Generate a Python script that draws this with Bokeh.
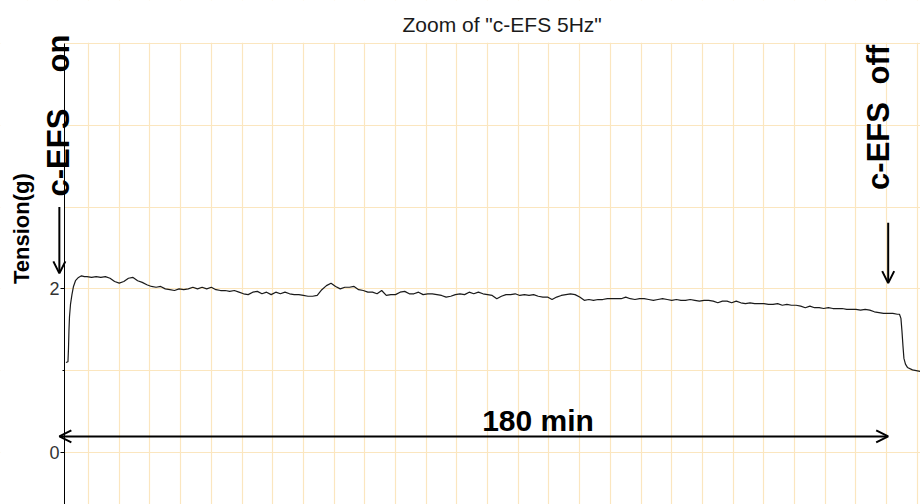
from math import pi
from bokeh.plotting import figure
from bokeh.models import (Range1d, LinearAxis, FixedTicker, Grid, Label, Arrow, OpenHead,
                          BoxAnnotation)
from bokeh.embed import file_html
from bokeh.resources import INLINE

# ---------------- data ----------------
title_text = 'Zoom of "c-EFS 5Hz"'
y_label = "Tension(g)"
duration_label = "180 min"
on_label_a = "c-EFS"
on_label_b = "on"
off_label_a = "c-EFS"
off_label_b = "off"

stim_on_s = 420
stim_off_s = 11220          # 180 min after stimulation on

y_tick_values = [0, 2]
y_minor_values = [1]
y_grid_values = [0, 1, 2, 3, 4, 5]
x_grid_step_s = 400

rise_time_s = [506, 532, 539, 545, 552, 565, 584, 604, 630, 669, 708, 747]
rise_tension_g = [1.10, 1.11, 1.27, 1.49, 1.66, 1.81, 1.93, 2.03, 2.10, 2.14, 2.16, 2.15]

plateau_start_s = 780
plateau_step_s = 60
plateau_tension_g = [
    2.15, 2.14, 2.15, 2.14, 2.15, 2.13, 2.09, 2.07, 2.09, 2.13,
    2.14, 2.10, 2.08, 2.05, 2.03, 2.02, 2.03, 2.00, 1.99, 1.98,
    2.00, 1.99, 2.00, 2.02, 2.00, 2.02, 2.00, 2.02, 1.99, 1.98,
    1.98, 1.97, 1.98, 1.96, 1.94, 1.93, 1.96, 1.97, 1.94, 1.96,
    1.93, 1.96, 1.94, 1.96, 1.94, 1.93, 1.93, 1.92, 1.91, 1.91,
    1.92, 1.99, 2.04, 2.07, 2.03, 2.00, 2.02, 2.02, 2.03, 1.99,
    1.98, 1.96, 1.96, 1.94, 1.98, 1.92, 1.93, 1.93, 1.96, 1.97,
    1.94, 1.94, 1.96, 1.93, 1.94, 1.94, 1.93, 1.92, 1.90, 1.91,
    1.93, 1.94, 1.93, 1.96, 1.94, 1.96, 1.94, 1.93, 1.92, 1.88,
    1.91, 1.93, 1.93, 1.94, 1.92, 1.93, 1.92, 1.93, 1.91, 1.90,
    1.90, 1.87, 1.90, 1.92, 1.93, 1.94, 1.93, 1.90, 1.86, 1.87,
    1.86, 1.87, 1.87, 1.88, 1.88, 1.88, 1.88, 1.90, 1.88, 1.87,
    1.88, 1.88, 1.87, 1.86, 1.87, 1.88, 1.87, 1.86, 1.87, 1.86,
    1.86, 1.87, 1.86, 1.85, 1.86, 1.86, 1.85, 1.83, 1.85, 1.85,
    1.83, 1.85, 1.83, 1.82, 1.83, 1.82, 1.82, 1.82, 1.81, 1.81,
    1.82, 1.80, 1.81, 1.80, 1.80, 1.79, 1.77, 1.79, 1.77, 1.77,
    1.76, 1.77, 1.76, 1.76, 1.76, 1.75, 1.75, 1.75, 1.74, 1.75,
    1.74, 1.72, 1.71, 1.70, 1.70, 1.70, 1.69,
]

fall_time_s = [11367, 11386, 11399, 11412, 11425, 11445, 11471, 11536, 11640]
fall_tension_g = [1.69, 1.64, 1.49, 1.31, 1.15, 1.08, 1.04, 1.01, 0.99]

plateau_time_s = [plateau_start_s + plateau_step_s * i for i in range(len(plateau_tension_g))]
time_s = rise_time_s + plateau_time_s + fall_time_s
tension_g = rise_tension_g + plateau_tension_g + fall_tension_g

# ---------------- figure ----------------
FONT = "Liberation Sans"
x_lo, x_hi = -347, 11641        # whole canvas width
y_lo, y_hi = -0.636, 5.526      # whole canvas height
axis_x = 487                    # where the tension axis stands
grid_top = 5.0

p = figure(width=920, height=504, output_backend="svg", toolbar_location=None,
           x_range=Range1d(x_lo, x_hi), y_range=Range1d(y_lo, y_hi),
           x_axis_location=None, y_axis_location=None,
           min_border_left=0, min_border_right=0, min_border_top=0, min_border_bottom=0)
p.outline_line_color = None
p.background_fill_color = "white"
p.border_fill_color = "white"
p.center = [r for r in p.center if not isinstance(r, Grid)]

grid_color = "#FBE6BF"
x_grid_ticks = list(range(0, 12001, x_grid_step_s))
p.add_layout(Grid(dimension=0, ticker=FixedTicker(ticks=x_grid_ticks),
                  grid_line_color=grid_color, grid_line_width=1.2), "center")
p.add_layout(Grid(dimension=1, ticker=FixedTicker(ticks=y_grid_values),
                  grid_line_color=grid_color, grid_line_width=1.2), "center")
# keep the grid to the plotting region (right of the axis, below the top line)
p.add_layout(BoxAnnotation(right=axis_x, fill_color="white", fill_alpha=1,
                           line_alpha=0, level="underlay"), "center")
p.add_layout(BoxAnnotation(bottom=grid_top + 0.008, fill_color="white", fill_alpha=1,
                           line_alpha=0, level="underlay"), "center")

yaxis = LinearAxis(ticker=FixedTicker(ticks=y_tick_values, minor_ticks=y_minor_values),
                   fixed_location=axis_x, bounds=(y_lo, grid_top))
yaxis.axis_line_color = "black"
yaxis.axis_line_width = 1
yaxis.major_tick_line_color = "black"
yaxis.major_tick_out = 4
yaxis.major_tick_in = 0
yaxis.minor_tick_line_color = "black"
yaxis.minor_tick_out = 2
yaxis.minor_tick_in = 0
yaxis.major_label_text_font = FONT
yaxis.major_label_text_font_size = "18px"
yaxis.major_label_text_color = "#333333"
yaxis.major_label_standoff = 1
p.add_layout(yaxis, "left")

p.line(time_s, tension_g, line_color="#1a1a1a", line_width=1.2)

# arrows
def head():
    return OpenHead(size=12, line_width=2, line_color="black")

p.add_layout(Arrow(end=head(), x_start=stim_on_s, y_start=3.0, x_end=stim_on_s, y_end=2.19,
                   line_width=2, line_color="black"))
p.add_layout(Arrow(end=head(), x_start=stim_off_s, y_start=2.81, x_end=stim_off_s, y_end=2.07,
                   line_width=2, line_color="black"))
p.add_layout(Arrow(start=head(), end=head(), x_start=stim_on_s, y_start=0.196,
                   x_end=stim_off_s, y_end=0.196, line_width=2, line_color="black"))

# texts
def text_label(x, y, text, angle=0.0, align="left", size="31px", style="bold", color="black"):
    return Label(x=x, y=y, text=text, angle=angle, text_align=align, text_baseline="middle",
                 text_font=FONT, text_font_size=size, text_font_style=style, text_color=color)

p.add_layout(text_label(4891, 5.232, title_text, size="21px", style="normal", color="#1a1a1a"))
p.add_layout(text_label(409, 3.13, on_label_a, angle=pi / 2))
p.add_layout(text_label(409, 4.645, on_label_b, angle=pi / 2))
p.add_layout(text_label(11094, 3.21, off_label_a, angle=pi / 2))
p.add_layout(text_label(11094, 4.50, off_label_b, angle=pi / 2))
p.add_layout(text_label(6657, 0.397, duration_label, align="center", size="30px"))
p.add_layout(text_label(-75, 2.06, y_label, angle=pi / 2, size="22px"))

open("out.html", "w").write(file_html(p, INLINE))
